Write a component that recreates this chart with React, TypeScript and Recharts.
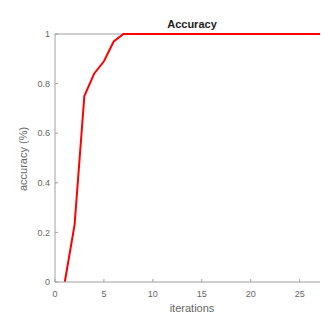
import { LineChart, Line, XAxis, YAxis, ReferenceLine } from "recharts";

// accuracy per iteration
const iterations = [
  1, 2, 3, 4, 5, 6, 7, 8, 9, 10, 11, 12, 13, 14, 15, 16, 17, 18, 19, 20, 21,
  22, 23, 24, 25, 26, 27, 28,
];
const accuracy = [
  0, 0.23, 0.75, 0.84, 0.89, 0.97, 1, 1, 1, 1, 1, 1, 1, 1, 1, 1, 1, 1, 1, 1,
  1, 1, 1, 1, 1, 1, 1, 1,
];
const xTicks = [0, 5, 10, 15, 20, 25];
const yTicks = [0, 0.2, 0.4, 0.6, 0.8, 1];

const AXIS = "#a0a0a0";
const TEXT = "#666666";
const FONT = "Liberation Sans, Arial, sans-serif";

export default function App() {
  const data = iterations.map((it, i) => ({ it, acc: accuracy[i] }));

  return (
    <div
      style={{
        margin: -8,
        width: 328,
        height: 320,
        overflow: "hidden",
        position: "relative",
        background: "#fff",
        fontFamily: FONT,
      }}
    >
      {/* title */}
      <div
        style={{
          position: "absolute",
          top: 18,
          left: 55,
          width: 274,
          textAlign: "center",
          fontSize: 11,
          lineHeight: "13px",
          fontWeight: 700,
          color: "#222",
        }}
      >
        Accuracy
      </div>
      {/* y label */}
      <div
        style={{
          position: "absolute",
          left: 23,
          top: 159,
          transform: "translate(-50%, -50%) rotate(-90deg)",
          fontSize: 11,
          lineHeight: "12px",
          color: TEXT,
          whiteSpace: "nowrap",
        }}
      >
        accuracy (%)
      </div>
      {/* x label */}
      <div
        style={{
          position: "absolute",
          top: 302,
          left: 55,
          width: 274,
          textAlign: "center",
          fontSize: 11,
          lineHeight: "12px",
          color: TEXT,
        }}
      >
        iterations
      </div>

      <LineChart
        width={330}
        height={320}
        data={data}
        margin={{ top: 34, right: 1, left: 0, bottom: 0 }}
      >
        <XAxis
          dataKey="it"
          type="number"
          domain={[0, 28]}
          ticks={xTicks}
          height={38}
          stroke={AXIS}
          tickSize={-3}
          tickMargin={12}
          tick={{ fontSize: 9, fill: TEXT, fontFamily: FONT }}
        />
        <YAxis
          type="number"
          domain={[0, 1]}
          ticks={yTicks}
          width={55}
          stroke={AXIS}
          tickSize={-3}
          tickMargin={8}
          tick={{ fontSize: 9, fill: TEXT, fontFamily: FONT }}
        />
        <ReferenceLine y={1} stroke={AXIS} ifOverflow="visible" />
        <ReferenceLine x={28} stroke={AXIS} ifOverflow="visible" />
        <Line
          dataKey="acc"
          stroke="#ff0000"
          strokeWidth={2}
          dot={false}
          isAnimationActive={false}
        />
      </LineChart>
    </div>
  );
}
